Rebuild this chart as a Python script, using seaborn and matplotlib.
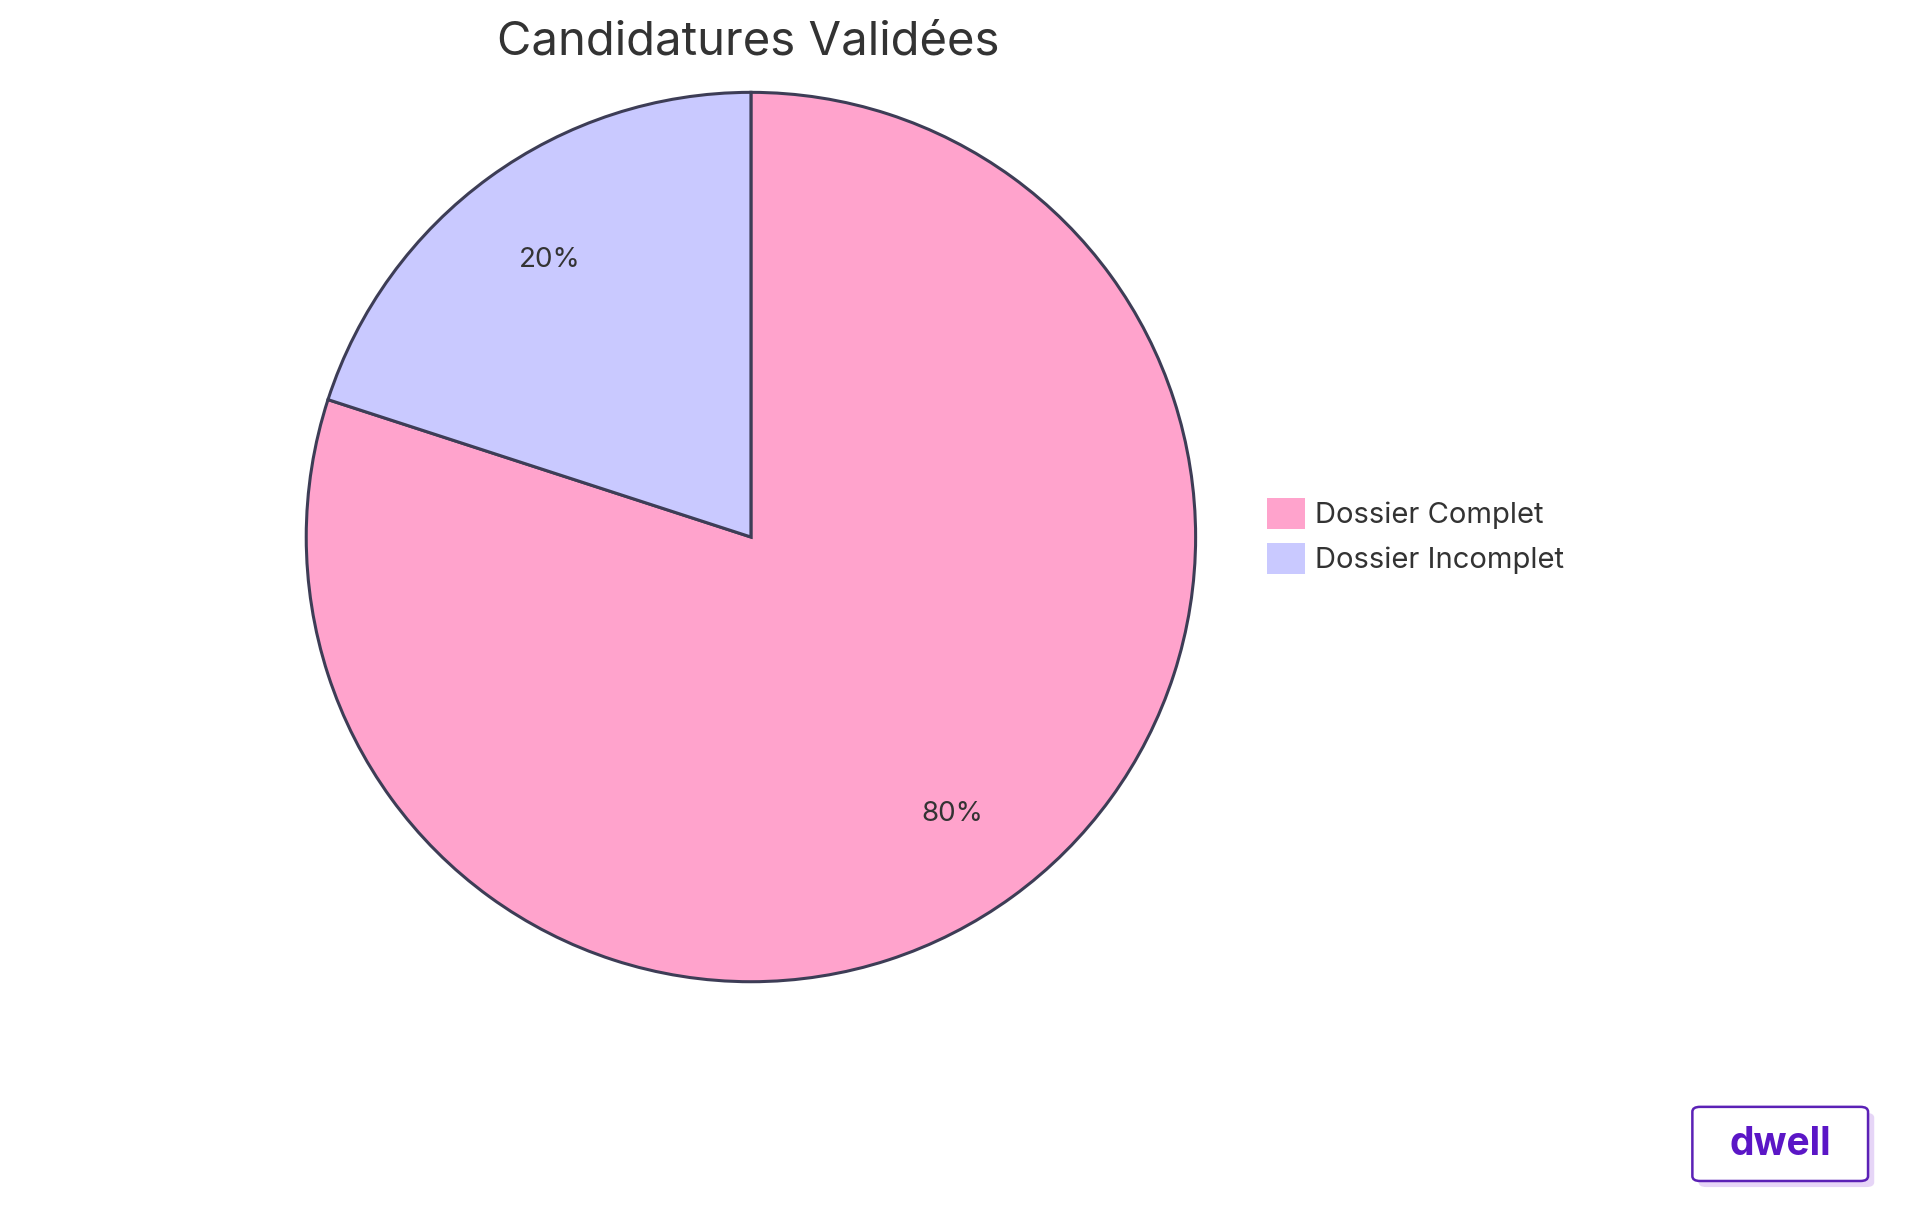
import matplotlib
matplotlib.use("Agg")
import matplotlib.pyplot as plt
import seaborn as sns
from matplotlib.patches import FancyBboxPatch

sns.set_theme(style="white")
plt.rcParams['font.family'] = ['Inter', 'DejaVu Sans']

labels = ["Dossier Complet", "Dossier Incomplet"]
values = [80, 20]
colors = ["#FFA3CC", "#C9C9FF"]
title = "Candidatures Validées"

fig = plt.figure(figsize=(19.2, 12.15), dpi=100)
fig.patch.set_facecolor("white")
W, H = 1552, 1000
cx, cy, r = 607 / W, 1 - 442 / H, 366 / H
ax = fig.add_axes([cx - r * H / W * 1.0, cy - r, 2 * r * H / W, 2 * r])
wedges, texts, autotexts = ax.pie(values, colors=colors, startangle=90, counterclock=False,
                                  autopct="%1.0f%%", pctdistance=0.77,
                                  wedgeprops=dict(edgecolor="#3d3d56", linewidth=2.2),
                                  textprops=dict(fontsize=20, color="#333333"))
ax.set_xlim(-1.0, 1.0)
ax.set_ylim(-1.0, 1.0)
ax.set_aspect("equal")
ax.axis("off")

fig.text(605 / W, 1 - 35 / H, title, ha="center", va="center", fontsize=34, color="#333333")

fig.legend(wedges, labels, loc="upper left", bbox_to_anchor=(1003 / W, 1 - 388 / H),
           frameon=False, fontsize=21, handlelength=1.3, handleheight=1.3,
           labelcolor="#333333", handletextpad=0.35, labelspacing=0.45)
for h in fig.legends[0].legend_handles:
    h.set_edgecolor("none")

# dwell logo
sh = FancyBboxPatch((1373 / W, 1 - 977 / H), 142 / W, 61 / H, boxstyle="round,pad=0,rounding_size=0.004",
                    transform=fig.transFigure, facecolor="#E6D5F7", edgecolor="none")
fig.patches.append(sh)
bx = FancyBboxPatch((1368 / W, 1 - 972 / H), 142 / W, 61 / H, boxstyle="round,pad=0,rounding_size=0.004",
                    transform=fig.transFigure, facecolor="white", edgecolor="#5B21B6", linewidth=1.8)
fig.patches.append(bx)
fig.text(1439 / W, 1 - 942 / H, "dwell", ha="center", va="center", fontsize=28,
         fontweight="bold", color="#5B16C6")

fig.savefig("out.png", dpi=100, facecolor="white")
